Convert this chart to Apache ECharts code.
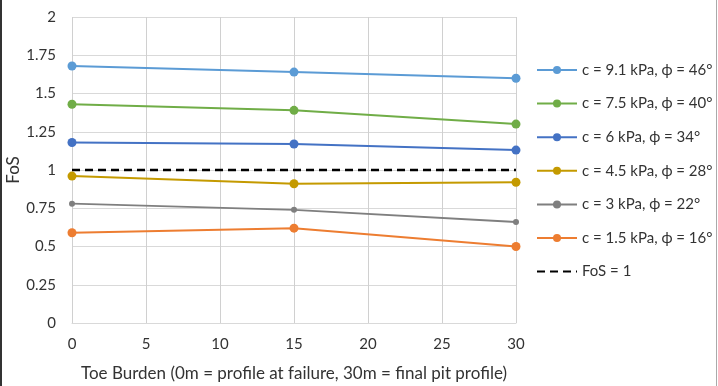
<!DOCTYPE html>
<html><head><meta charset="utf-8">
<script src="https://cdn.jsdelivr.net/npm/echarts@6/dist/echarts.min.js"></script>
<style>html,body{margin:0;padding:0;background:#fff}#c{width:718px;height:386px}</style>
</head><body><div id="c"></div>
<script>
const xValues = [0, 15, 30];
const seriesNames = ['c = 9.1 kPa, ϕ = 46°','c = 7.5 kPa, ϕ = 40°','c = 6 kPa, ϕ = 34°','c = 4.5 kPa, ϕ = 28°','c = 3 kPa, ϕ = 22°','c = 1.5 kPa, ϕ = 16°'];
const s91 = [1.68, 1.64, 1.60];
const s75 = [1.43, 1.39, 1.30];
const s6 = [1.18, 1.17, 1.13];
const s45 = [0.96, 0.91, 0.92];
const s3 = [0.78, 0.74, 0.66];
const s15 = [0.59, 0.62, 0.50];
const fosLine = [1, 1];
const fosX = [0, 30];
const colors = ['#5B9BD5','#70AD47','#4472C4','#C49A00','#7F7F7F','#ED7D31'];
const allVals = [s91, s75, s6, s45, s3, s15];
const font = 'Lato, "Open Sans", sans-serif';

const series = allVals.map((v, i) => ({
  name: seriesNames[i], type: 'line',
  data: xValues.map((x, j) => [x, v[j]]),
  symbol: 'circle', symbolSize: i === 4 ? 6 : 9,
  lineStyle: {width: i === 4 ? 1.8 : 2, color: colors[i]},
  itemStyle: {color: colors[i]},
  z: 3
}));
series.push({
  name: 'FoS = 1', type: 'line',
  data: fosX.map((x, j) => [x, fosLine[j]]),
  symbol: 'circle', showSymbol: false,
  lineStyle: {width: 2.5, color: '#000', type: [8, 5]},
  itemStyle: {color: '#000'},
  z: 2
});

const legendData = seriesNames.map(n => ({name: n}));
legendData.push({name: 'FoS = 1', itemStyle: {opacity: 0}});

const chart = echarts.init(document.getElementById('c'));
chart.setOption({
  animation: false,
  textStyle: {fontFamily: font},
  grid: {left: 72, right: 202, top: 17, bottom: 63, containLabel: false, outerBoundsMode: 'none'},
  xAxis: {
    type: 'value', min: 0, max: 30, interval: 5,
    name: 'Toe Burden (0m = profile at failure, 30m = final pit profile)',
    nameLocation: 'middle', nameGap: 42, nameMoveOverlap: false,
    nameTextStyle: {fontSize: 17, color: '#333', fontFamily: font},
    axisLine: {show: true, lineStyle: {color: '#d9d9d9'}},
    axisTick: {show: false},
    axisLabel: {fontSize: 15, color: '#333', margin: 14},
    splitLine: {show: true, lineStyle: {color: '#d0d0d0', width: 1}}
  },
  yAxis: {
    type: 'value', min: 0, max: 2, interval: 0.25,
    name: 'FoS', nameLocation: 'middle', nameGap: 50, nameRotate: 90, nameMoveOverlap: false,
    nameTextStyle: {fontSize: 17, color: '#333', fontFamily: font},
    axisLine: {show: false}, axisTick: {show: false},
    axisLabel: {fontSize: 15, color: '#333', margin: 16},
    splitLine: {show: true, lineStyle: {color: '#d9d9d9', width: 1}}
  },
  legend: {
    orient: 'vertical', left: 536, top: 62, padding: 0, itemGap: 17.6, itemWidth: 40, itemHeight: 10,
    textStyle: {fontSize: 15, lineHeight: 16, color: '#333', fontFamily: font, padding: [0,0,0,0]},
    data: legendData
  },
  graphic: [
    {type: 'line', shape: {x1: 1, y1: 0, x2: 1, y2: 386}, style: {stroke: '#333', lineWidth: 2}},
    {type: 'line', shape: {x1: 716.5, y1: 0, x2: 716.5, y2: 386}, style: {stroke: '#aaa', lineWidth: 1}}
  ],
  series: series
});
</script></body></html>
